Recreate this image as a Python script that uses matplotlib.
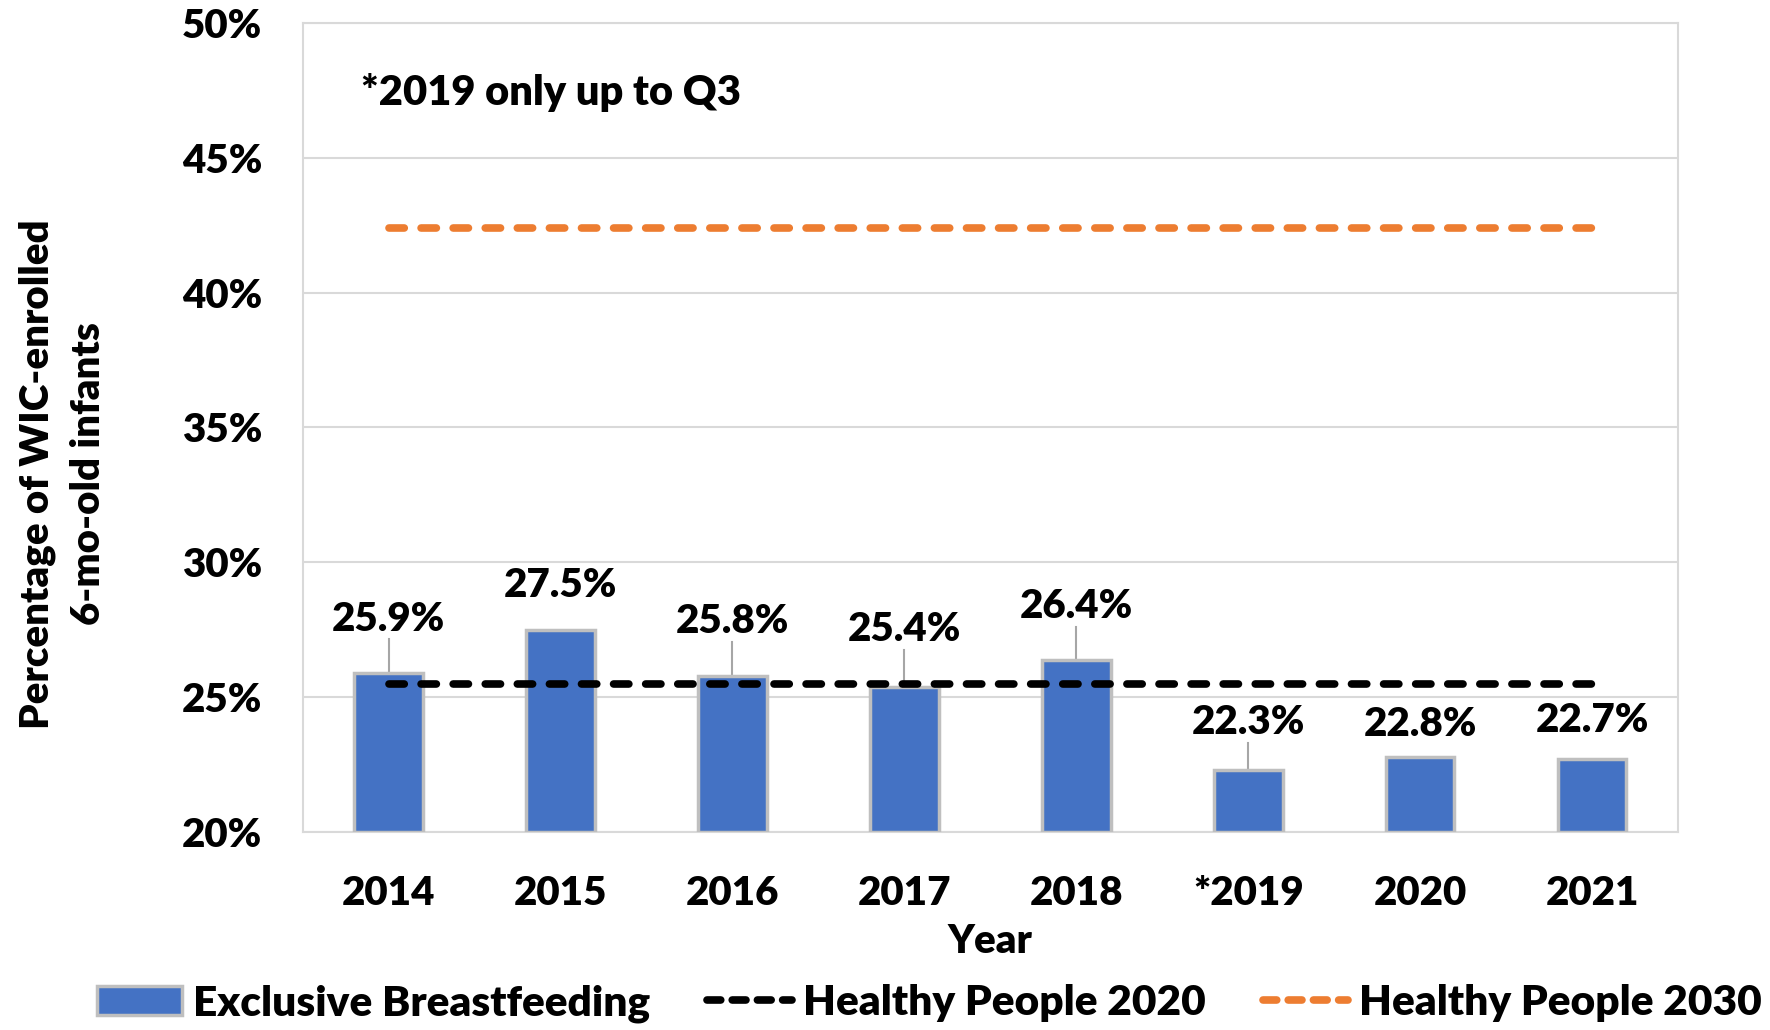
import matplotlib
matplotlib.use("Agg")
import matplotlib.pyplot as plt
from matplotlib.patches import Patch
from matplotlib.lines import Line2D

years = ["2014", "2015", "2016", "2017", "2018", "*2019", "2020", "2021"]
exclusive_bf = [25.9, 27.5, 25.8, 25.4, 26.4, 22.3, 22.8, 22.7]
hp2020_target = 25.5
hp2030_target = 42.4
yticks = [20, 25, 30, 35, 40, 45, 50]
# label positions (value units)
label_y = [27.9, 29.15, 27.8, 27.5, 28.35, 24.05, 24.0, 24.15]
leader = [True, False, True, True, True, True, False, False]

plt.rcParams['font.family'] = ['Lato', 'DejaVu Sans']

FS = 29
W = 'heavy'

fig = plt.figure(figsize=(17.7, 10.3), dpi=100)
ax = fig.add_axes([0.171, 0.192, 0.777, 0.786])

x = list(range(len(years)))
blue = '#4472C4'
ax.bar(x, [v - 20 for v in exclusive_bf], bottom=20, width=0.40, color=blue,
       edgecolor='#BFBFBF', linewidth=2.5, zorder=3)

ax.plot([x[0], x[-1]], [hp2020_target] * 2, color='black', lw=5.5,
        dashes=(2.0, 2.2), dash_capstyle='round', zorder=4)
ax.plot([x[0], x[-1]], [hp2030_target] * 2, color='#ED7D31', lw=5.5,
        dashes=(2.0, 2.2), dash_capstyle='round', zorder=4)

for xi, v, ly, ld in zip(x, exclusive_bf, label_y, leader):
    ax.text(xi, ly, f"{v}%", ha='center', va='center', fontsize=FS,
            fontweight=W, zorder=5)
    if ld:
        ax.plot([xi, xi], [v, ly - 0.75], color='#A6A6A6', lw=1.5, zorder=2)

ax.text(-0.16, 47.4, "*2019 only up to Q3", ha='left', va='center',
        fontsize=FS + 1, fontweight=W)

ax.set_xlim(-0.5, 7.5)
ax.set_ylim(20, 50)
ax.set_yticks(yticks)
ax.set_yticklabels([f"{t}%" for t in yticks], fontsize=FS, fontweight=W)
ax.set_xticks(x)
ax.set_xticklabels(years, fontsize=FS, fontweight=W)
ax.tick_params(axis='both', length=0)
ax.tick_params(axis='y', pad=29)
ax.tick_params(axis='x', pad=31)
ax.grid(axis='y', color='#D9D9D9', lw=1.5, zorder=0)
for s in ax.spines.values():
    s.set_color('#D9D9D9')
    s.set_linewidth(1.5)

ax.set_xlabel("Year", fontsize=FS, fontweight=W, labelpad=8)
fig.text(0.0355, 0.54, "Percentage of WIC-enrolled\n6-mo-old infants", rotation=90,
         ha='center', va='center', fontsize=FS, fontweight=W, linespacing=1.45)

handles = [
    Patch(facecolor=blue, edgecolor='#BFBFBF', linewidth=2.5),
    Line2D([0], [0], color='black', lw=5.5, dashes=(1.8, 1.5), dash_capstyle='round'),
    Line2D([0], [0], color='#ED7D31', lw=5.5, dashes=(1.8, 1.5), dash_capstyle='round'),
]
fig.legend(handles, ["Exclusive Breastfeeding", "Healthy People 2020", "Healthy People 2030"],
           loc='lower center', bbox_to_anchor=(0.525, -0.03), ncol=3, frameon=False,
           prop={'size': FS + 1.5, 'weight': W}, handlelength=2.0, handletextpad=0.26,
           columnspacing=1.35)

fig.savefig("out.png", dpi=100)
